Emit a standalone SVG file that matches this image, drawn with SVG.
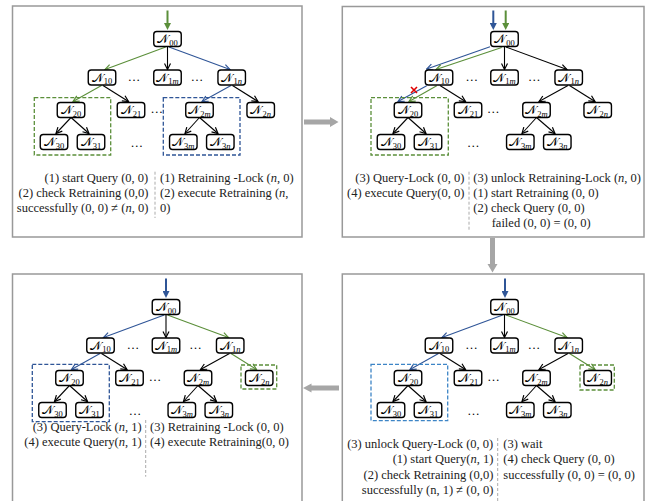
<svg xmlns="http://www.w3.org/2000/svg" width="657" height="501" viewBox="0 0 657 501">
<style>
.pn{fill:#fff;stroke:#999;stroke-width:1.5}
.nd rect{fill:#fff;stroke:#000;stroke-width:1.4}
.nd text{font-family:'DejaVu Serif','Liberation Serif',serif;font-size:11.5px;text-anchor:middle}
.sub{font-size:8.5px;font-family:'Liberation Serif',serif}
.e{fill:none;stroke-width:1.1}
.k{stroke:#000;marker-end:url(#ak)}
.g{stroke:#5b8f3a;marker-end:url(#ag)}
.b{stroke:#2f5597;marker-end:url(#ab)}
.eg{stroke:#5b8f3a;stroke-width:2;marker-end:url(#sg)}
.eb{stroke:#2f5597;stroke-width:2;marker-end:url(#sb)}
.dg{fill:none;stroke:#5b8f3a;stroke-width:1.3;stroke-dasharray:4 2}
.db{fill:none;stroke:#2f5597;stroke-width:1.3;stroke-dasharray:4 2}
.dl{fill:none;stroke:#3d85c6;stroke-width:1.3;stroke-dasharray:4 2}
.t{font-family:'Liberation Serif',serif;font-size:12.5px;fill:#222}
.r{text-anchor:end}
.dot{font-family:'Liberation Serif',serif;font-size:12.5px;text-anchor:middle}
.dv{stroke:#aaa;stroke-width:1;stroke-dasharray:3 2}
.big{fill:#a6a6a6}
</style>
<defs>
<marker id="ak" viewBox="0 0 8 8" refX="7" refY="4" markerWidth="8" markerHeight="8" markerUnits="userSpaceOnUse" orient="auto"><path d="M1,1 L7,4 L1,7" fill="none" stroke="#000" stroke-width="1.2"/></marker>
<marker id="ag" viewBox="0 0 8 8" refX="7" refY="4" markerWidth="8" markerHeight="8" markerUnits="userSpaceOnUse" orient="auto"><path d="M1,1 L7,4 L1,7" fill="none" stroke="#5b8f3a" stroke-width="1.2"/></marker>
<marker id="ab" viewBox="0 0 8 8" refX="7" refY="4" markerWidth="8" markerHeight="8" markerUnits="userSpaceOnUse" orient="auto"><path d="M1,1 L7,4 L1,7" fill="none" stroke="#2f5597" stroke-width="1.2"/></marker>
<marker id="sg" viewBox="0 0 7 7" refX="1" refY="3.5" markerWidth="7" markerHeight="7" markerUnits="userSpaceOnUse" orient="auto"><path d="M0,0 L7,3.5 L0,7 z" fill="#5b8f3a"/></marker>
<marker id="sb" viewBox="0 0 7 7" refX="1" refY="3.5" markerWidth="7" markerHeight="7" markerUnits="userSpaceOnUse" orient="auto"><path d="M0,0 L7,3.5 L0,7 z" fill="#2f5597"/></marker>
</defs>

<!-- panel borders -->
<rect class="pn" x="12.5" y="6" width="289.5" height="231"/>
<rect class="pn" x="342.3" y="6.5" width="301.7" height="230.5"/>
<rect class="pn" x="12.5" y="274" width="289.5" height="240"/>
<rect class="pn" x="342.3" y="274" width="301.7" height="240"/>

<!-- big gray arrows -->
<g id="transitions">
<polygon class="big" points="304,119.5 330,119.5 330,117 338.5,122 330,127 330,124.5 304,124.5"/>
<polygon class="big" points="490,238 495,238 495,264 497.5,264 492.5,272.5 487.5,264 490,264"/>
<polygon class="big" points="339,385.5 311.5,385.5 311.5,383.5 303,388 311.5,392.5 311.5,390.5 339,390.5"/>
</g>

<!-- ===== Panel 1 ===== -->
<g id="panel1" transform="translate(0,0)">
<g id="p1-connectors">
<line class="eg" x1="167.5" y1="10.5" x2="167.5" y2="24"/>
<path class="e g" d="M165.7,47 L105,69.5"/>
<path class="e k" d="M167.5,47 L167.5,69.5"/>
<path class="e b" d="M169,47 L230,69.5"/>
<path class="e g" d="M101.5,85.5 L73,101.5"/>
<path class="e k" d="M103,85.5 L128.5,101.5"/>
<path class="e b" d="M231,85.5 L202,101.5"/>
<path class="e k" d="M232.5,85.5 L258,101.5"/>
<path class="e k" d="M71,117.5 L56,133.5"/>
<path class="e k" d="M71,117.5 L89,133.5"/>
<path class="e k" d="M199.5,117.5 L185,133.5"/>
<path class="e k" d="M199.5,117.5 L218,133.5"/>
</g>
<rect class="dg" x="34.3" y="97.7" width="76.4" height="57.3"/>
<rect class="db" x="163.3" y="97.7" width="76.7" height="57.3"/>
<g id="p1-N00" class="nd" transform="translate(167.5,39)"><rect x="-13.75" y="-7.5" width="27.5" height="15" rx="3"/><text y="4">𝒩<tspan class="sub" dy="2.5">00</tspan></text></g>
<g id="p1-N10" class="nd" transform="translate(102,77.5)"><rect x="-13.75" y="-7.5" width="27.5" height="15" rx="3"/><text y="4">𝒩<tspan class="sub" dy="2.5">10</tspan></text></g>
<g id="p1-N1m" class="nd" transform="translate(167.5,77.5)"><rect x="-13.75" y="-7.5" width="27.5" height="15" rx="3"/><text y="4">𝒩<tspan class="sub" dy="2.5">1<tspan font-style="italic">m</tspan></tspan></text></g>
<g id="p1-N1n" class="nd" transform="translate(231.7,77.5)"><rect x="-13.75" y="-7.5" width="27.5" height="15" rx="3"/><text y="4">𝒩<tspan class="sub" dy="2.5">1<tspan font-style="italic">n</tspan></tspan></text></g>
<g id="p1-N20" class="nd" transform="translate(71,110)"><rect x="-13.75" y="-7.5" width="27.5" height="15" rx="3"/><text y="4">𝒩<tspan class="sub" dy="2.5">20</tspan></text></g>
<g id="p1-N21" class="nd" transform="translate(131,110)"><rect x="-13.75" y="-7.5" width="27.5" height="15" rx="3"/><text y="4">𝒩<tspan class="sub" dy="2.5">21</tspan></text></g>
<g id="p1-N2m" class="nd" transform="translate(199.5,110)"><rect x="-13.75" y="-7.5" width="27.5" height="15" rx="3"/><text y="4">𝒩<tspan class="sub" dy="2.5">2<tspan font-style="italic">m</tspan></tspan></text></g>
<g id="p1-N2n" class="nd" transform="translate(260.7,110)"><rect x="-13.75" y="-7.5" width="27.5" height="15" rx="3"/><text y="4">𝒩<tspan class="sub" dy="2.5">2<tspan font-style="italic">n</tspan></tspan></text></g>
<g id="p1-N30" class="nd" transform="translate(54,142)"><rect x="-13.75" y="-7.5" width="27.5" height="15" rx="3"/><text y="4">𝒩<tspan class="sub" dy="2.5">30</tspan></text></g>
<g id="p1-N31" class="nd" transform="translate(91,142)"><rect x="-13.75" y="-7.5" width="27.5" height="15" rx="3"/><text y="4">𝒩<tspan class="sub" dy="2.5">31</tspan></text></g>
<g id="p1-N3m" class="nd" transform="translate(183.3,142)"><rect x="-13.75" y="-7.5" width="27.5" height="15" rx="3"/><text y="4">𝒩<tspan class="sub" dy="2.5">3<tspan font-style="italic">m</tspan></tspan></text></g>
<g id="p1-N3n" class="nd" transform="translate(220.3,142)"><rect x="-13.75" y="-7.5" width="27.5" height="15" rx="3"/><text y="4">𝒩<tspan class="sub" dy="2.5">3<tspan font-style="italic">n</tspan></tspan></text></g>
<text class="dot" x="134" y="80.5">…</text>
<text class="dot" x="197" y="80.5">…</text>
<text class="dot" x="156.7" y="112.5">…</text>
<text class="dot" x="136.7" y="146.5">…</text>
</g>
<line class="dv" x1="155" y1="171.7" x2="155" y2="218"/>
<text class="t r" x="148.3" y="182.3">(1) start Query (0, 0)</text>
<text class="t r" x="148.3" y="197.3">(2) check Retraining (0,0)</text>
<text class="t r" x="148.3" y="212.3">successfully (0, 0) ≠ (<tspan font-style="italic">n</tspan>, 0)</text>
<text class="t" x="160" y="182.3">(1) Retraining -Lock (<tspan font-style="italic">n</tspan>, 0)</text>
<text class="t" x="160" y="197.3">(2) execute Retraining (<tspan font-style="italic">n</tspan>,</text>
<text class="t" x="160" y="212.3">0)</text>

<!-- ===== Panel 2 ===== -->
<g id="panel2" transform="translate(337,0)">
<g id="p2-connectors">
<line class="eb" x1="156.3" y1="10.5" x2="156.3" y2="24"/>
<line class="eg" x1="168.7" y1="10.5" x2="168.7" y2="24"/>
<path class="e b" d="M153,46.7 L89.7,69"/>
<path class="e g" d="M164.7,47.5 L99,69.5"/>
<path class="e k" d="M167.5,47 L167.5,69.5"/>
<path class="e k" d="M169,47 L230,69.5"/>
<path class="e b" d="M89.7,85.7 L61,101.5"/>
<path class="e g" d="M99.7,85.7 L72,101.5"/>
<path class="e k" d="M103,85.5 L128.5,101.5"/>
<path class="e k" d="M231,85.5 L202,101.5"/>
<path class="e k" d="M232.5,85.5 L258,101.5"/>
<path class="e k" d="M71,117.5 L56,133.5"/>
<path class="e k" d="M71,117.5 L89,133.5"/>
<path class="e k" d="M199.5,117.5 L185,133.5"/>
<path class="e k" d="M199.5,117.5 L218,133.5"/>
<path d="M74,87 L80,93 M80,87 L74,93" stroke="#e00000" stroke-width="1.6" fill="none"/>
</g>
<rect class="dg" x="34" y="97.7" width="77.3" height="57.3"/>
<g id="p2-N00" class="nd" transform="translate(167.5,39)"><rect x="-13.75" y="-7.5" width="27.5" height="15" rx="3"/><text y="4">𝒩<tspan class="sub" dy="2.5">00</tspan></text></g>
<g id="p2-N10" class="nd" transform="translate(102,77.5)"><rect x="-13.75" y="-7.5" width="27.5" height="15" rx="3"/><text y="4">𝒩<tspan class="sub" dy="2.5">10</tspan></text></g>
<g id="p2-N1m" class="nd" transform="translate(167.5,77.5)"><rect x="-13.75" y="-7.5" width="27.5" height="15" rx="3"/><text y="4">𝒩<tspan class="sub" dy="2.5">1<tspan font-style="italic">m</tspan></tspan></text></g>
<g id="p2-N1n" class="nd" transform="translate(231.7,77.5)"><rect x="-13.75" y="-7.5" width="27.5" height="15" rx="3"/><text y="4">𝒩<tspan class="sub" dy="2.5">1<tspan font-style="italic">n</tspan></tspan></text></g>
<g id="p2-N20" class="nd" transform="translate(71,110)"><rect x="-13.75" y="-7.5" width="27.5" height="15" rx="3"/><text y="4">𝒩<tspan class="sub" dy="2.5">20</tspan></text></g>
<g id="p2-N21" class="nd" transform="translate(131,110)"><rect x="-13.75" y="-7.5" width="27.5" height="15" rx="3"/><text y="4">𝒩<tspan class="sub" dy="2.5">21</tspan></text></g>
<g id="p2-N2m" class="nd" transform="translate(199.5,110)"><rect x="-13.75" y="-7.5" width="27.5" height="15" rx="3"/><text y="4">𝒩<tspan class="sub" dy="2.5">2<tspan font-style="italic">m</tspan></tspan></text></g>
<g id="p2-N2n" class="nd" transform="translate(260.7,110)"><rect x="-13.75" y="-7.5" width="27.5" height="15" rx="3"/><text y="4">𝒩<tspan class="sub" dy="2.5">2<tspan font-style="italic">n</tspan></tspan></text></g>
<g id="p2-N30" class="nd" transform="translate(54,142)"><rect x="-13.75" y="-7.5" width="27.5" height="15" rx="3"/><text y="4">𝒩<tspan class="sub" dy="2.5">30</tspan></text></g>
<g id="p2-N31" class="nd" transform="translate(91,142)"><rect x="-13.75" y="-7.5" width="27.5" height="15" rx="3"/><text y="4">𝒩<tspan class="sub" dy="2.5">31</tspan></text></g>
<g id="p2-N3m" class="nd" transform="translate(183.3,142)"><rect x="-13.75" y="-7.5" width="27.5" height="15" rx="3"/><text y="4">𝒩<tspan class="sub" dy="2.5">3<tspan font-style="italic">m</tspan></tspan></text></g>
<g id="p2-N3n" class="nd" transform="translate(220.3,142)"><rect x="-13.75" y="-7.5" width="27.5" height="15" rx="3"/><text y="4">𝒩<tspan class="sub" dy="2.5">3<tspan font-style="italic">n</tspan></tspan></text></g>
<text class="dot" x="134.7" y="80.5">…</text>
<text class="dot" x="197.3" y="80.5">…</text>
<text class="dot" x="156.3" y="112.5">…</text>
<text class="dot" x="136.3" y="146.5">…</text>
</g>
<line class="dv" x1="469" y1="171.7" x2="469" y2="230"/>
<text class="t r" x="464.3" y="182.3">(3) Query-Lock (0, 0)</text>
<text class="t r" x="464.3" y="197.3">(4) execute Query(0, 0)</text>
<text class="t" x="473.3" y="182.3">(3) unlock Retraining-Lock (<tspan font-style="italic">n</tspan>, 0)</text>
<text class="t" x="473.3" y="197.3">(1) start Retraining (0, 0)</text>
<text class="t" x="473.3" y="212.3">(2) check Query (0, 0)</text>
<text class="t" x="491.7" y="227.3">failed (0, 0) = (0, 0)</text>

<!-- ===== Panel 3 ===== -->
<g id="panel3" transform="translate(-1.5,268)">
<g id="p3-connectors">
<line class="eb" x1="167.5" y1="10.5" x2="167.5" y2="24"/>
<path class="e b" d="M165.7,47 L105,69.5"/>
<path class="e k" d="M167.5,47 L167.5,69.5"/>
<path class="e g" d="M169,47 L230,69.5"/>
<path class="e b" d="M101.5,85.5 L73,101.5"/>
<path class="e k" d="M103,85.5 L128.5,101.5"/>
<path class="e k" d="M231,85.5 L202,101.5"/>
<path class="e g" d="M232.5,85.5 L258,101.5"/>
<path class="e k" d="M71,117.5 L56,133.5"/>
<path class="e k" d="M71,117.5 L89,133.5"/>
<path class="e k" d="M199.5,117.5 L185,133.5"/>
<path class="e k" d="M199.5,117.5 L218,133.5"/>
</g>
<rect class="db" x="33.8" y="96.3" width="77" height="57.4"/>
<rect class="dg" x="242.5" y="97" width="35.7" height="24"/>
<g id="p3-N00" class="nd" transform="translate(167.5,39)"><rect x="-13.75" y="-7.5" width="27.5" height="15" rx="3"/><text y="4">𝒩<tspan class="sub" dy="2.5">00</tspan></text></g>
<g id="p3-N10" class="nd" transform="translate(102,77.5)"><rect x="-13.75" y="-7.5" width="27.5" height="15" rx="3"/><text y="4">𝒩<tspan class="sub" dy="2.5">10</tspan></text></g>
<g id="p3-N1m" class="nd" transform="translate(167.5,77.5)"><rect x="-13.75" y="-7.5" width="27.5" height="15" rx="3"/><text y="4">𝒩<tspan class="sub" dy="2.5">1<tspan font-style="italic">m</tspan></tspan></text></g>
<g id="p3-N1n" class="nd" transform="translate(231.7,77.5)"><rect x="-13.75" y="-7.5" width="27.5" height="15" rx="3"/><text y="4">𝒩<tspan class="sub" dy="2.5">1<tspan font-style="italic">n</tspan></tspan></text></g>
<g id="p3-N20" class="nd" transform="translate(71,110)"><rect x="-13.75" y="-7.5" width="27.5" height="15" rx="3"/><text y="4">𝒩<tspan class="sub" dy="2.5">20</tspan></text></g>
<g id="p3-N21" class="nd" transform="translate(131,110)"><rect x="-13.75" y="-7.5" width="27.5" height="15" rx="3"/><text y="4">𝒩<tspan class="sub" dy="2.5">21</tspan></text></g>
<g id="p3-N2m" class="nd" transform="translate(199.5,110)"><rect x="-13.75" y="-7.5" width="27.5" height="15" rx="3"/><text y="4">𝒩<tspan class="sub" dy="2.5">2<tspan font-style="italic">m</tspan></tspan></text></g>
<g id="p3-N2n" class="nd" transform="translate(260.7,110)"><rect x="-13.75" y="-7.5" width="27.5" height="15" rx="3"/><text y="4">𝒩<tspan class="sub" dy="2.5">2<tspan font-style="italic">n</tspan></tspan></text></g>
<g id="p3-N30" class="nd" transform="translate(54,142)"><rect x="-13.75" y="-7.5" width="27.5" height="15" rx="3"/><text y="4">𝒩<tspan class="sub" dy="2.5">30</tspan></text></g>
<g id="p3-N31" class="nd" transform="translate(91,142)"><rect x="-13.75" y="-7.5" width="27.5" height="15" rx="3"/><text y="4">𝒩<tspan class="sub" dy="2.5">31</tspan></text></g>
<g id="p3-N3m" class="nd" transform="translate(183.3,142)"><rect x="-13.75" y="-7.5" width="27.5" height="15" rx="3"/><text y="4">𝒩<tspan class="sub" dy="2.5">3<tspan font-style="italic">m</tspan></tspan></text></g>
<g id="p3-N3n" class="nd" transform="translate(220.3,142)"><rect x="-13.75" y="-7.5" width="27.5" height="15" rx="3"/><text y="4">𝒩<tspan class="sub" dy="2.5">3<tspan font-style="italic">n</tspan></tspan></text></g>
<text class="dot" x="134.5" y="80.5">…</text>
<text class="dot" x="197" y="80.5">…</text>
<text class="dot" x="156.5" y="112.5">…</text>
<text class="dot" x="136.5" y="146.5">…</text>
</g>
<line class="dv" x1="145.7" y1="420" x2="145.7" y2="476.7"/>
<text class="t r" x="141.7" y="430.7">(3) Query-Lock (<tspan font-style="italic">n</tspan>, 1)</text>
<text class="t r" x="141.7" y="445.7">(4) execute Query(<tspan font-style="italic">n</tspan>, 1)</text>
<text class="t" x="150" y="430.7">(3) Retraining -Lock (0, 0)</text>
<text class="t" x="150" y="445.7">(4) execute Retraining(0, 0)</text>

<!-- ===== Panel 4 ===== -->
<g id="panel4" transform="translate(337,268)">
<g id="p4-connectors">
<line class="eb" x1="168" y1="10.5" x2="168" y2="24"/>
<path class="e b" d="M165.7,47 L105,69.5"/>
<path class="e k" d="M167.5,47 L167.5,69.5"/>
<path class="e g" d="M169,47 L230,69.5"/>
<path class="e b" d="M101.5,85.5 L73,101.5"/>
<path class="e k" d="M103,85.5 L128.5,101.5"/>
<path class="e k" d="M231,85.5 L202,101.5"/>
<path class="e g" d="M232.5,85.5 L258,101.5"/>
<path class="e k" d="M71,117.5 L56,133.5"/>
<path class="e k" d="M71,117.5 L89,133.5"/>
<path class="e k" d="M199.5,117.5 L185,133.5"/>
<path class="e k" d="M199.5,117.5 L218,133.5"/>
</g>
<rect class="dl" x="34" y="96.3" width="76.7" height="56.4"/>
<rect class="dg" x="243" y="97" width="34.3" height="25"/>
<g id="p4-N00" class="nd" transform="translate(167.5,39)"><rect x="-13.75" y="-7.5" width="27.5" height="15" rx="3"/><text y="4">𝒩<tspan class="sub" dy="2.5">00</tspan></text></g>
<g id="p4-N10" class="nd" transform="translate(102,77.5)"><rect x="-13.75" y="-7.5" width="27.5" height="15" rx="3"/><text y="4">𝒩<tspan class="sub" dy="2.5">10</tspan></text></g>
<g id="p4-N1m" class="nd" transform="translate(167.5,77.5)"><rect x="-13.75" y="-7.5" width="27.5" height="15" rx="3"/><text y="4">𝒩<tspan class="sub" dy="2.5">1<tspan font-style="italic">m</tspan></tspan></text></g>
<g id="p4-N1n" class="nd" transform="translate(231.7,77.5)"><rect x="-13.75" y="-7.5" width="27.5" height="15" rx="3"/><text y="4">𝒩<tspan class="sub" dy="2.5">1<tspan font-style="italic">n</tspan></tspan></text></g>
<g id="p4-N20" class="nd" transform="translate(71,110)"><rect x="-13.75" y="-7.5" width="27.5" height="15" rx="3"/><text y="4">𝒩<tspan class="sub" dy="2.5">20</tspan></text></g>
<g id="p4-N21" class="nd" transform="translate(131,110)"><rect x="-13.75" y="-7.5" width="27.5" height="15" rx="3"/><text y="4">𝒩<tspan class="sub" dy="2.5">21</tspan></text></g>
<g id="p4-N2m" class="nd" transform="translate(199.5,110)"><rect x="-13.75" y="-7.5" width="27.5" height="15" rx="3"/><text y="4">𝒩<tspan class="sub" dy="2.5">2<tspan font-style="italic">m</tspan></tspan></text></g>
<g id="p4-N2n" class="nd" transform="translate(260.7,110)"><rect x="-13.75" y="-7.5" width="27.5" height="15" rx="3"/><text y="4">𝒩<tspan class="sub" dy="2.5">2<tspan font-style="italic">n</tspan></tspan></text></g>
<g id="p4-N30" class="nd" transform="translate(54,142)"><rect x="-13.75" y="-7.5" width="27.5" height="15" rx="3"/><text y="4">𝒩<tspan class="sub" dy="2.5">30</tspan></text></g>
<g id="p4-N31" class="nd" transform="translate(91,142)"><rect x="-13.75" y="-7.5" width="27.5" height="15" rx="3"/><text y="4">𝒩<tspan class="sub" dy="2.5">31</tspan></text></g>
<g id="p4-N3m" class="nd" transform="translate(183.3,142)"><rect x="-13.75" y="-7.5" width="27.5" height="15" rx="3"/><text y="4">𝒩<tspan class="sub" dy="2.5">3<tspan font-style="italic">m</tspan></tspan></text></g>
<g id="p4-N3n" class="nd" transform="translate(220.3,142)"><rect x="-13.75" y="-7.5" width="27.5" height="15" rx="3"/><text y="4">𝒩<tspan class="sub" dy="2.5">3<tspan font-style="italic">n</tspan></tspan></text></g>
<text class="dot" x="134.5" y="80.5">…</text>
<text class="dot" x="197" y="80.5">…</text>
<text class="dot" x="156.5" y="112.5">…</text>
<text class="dot" x="136.5" y="146.5">…</text>
</g>
<line class="dv" x1="497.7" y1="438" x2="497.7" y2="501"/>
<text class="t r" x="493.3" y="448.3">(3) unlock Query-Lock (0, 0)</text>
<text class="t r" x="493.3" y="463.3">(1) start Query(<tspan font-style="italic">n</tspan>, 1)</text>
<text class="t r" x="493.3" y="478.8">(2) check Retraining (0,0)</text>
<text class="t r" x="493.3" y="494">successfully (n, 1) ≠ (0, 0)</text>
<text class="t" x="503.3" y="448.3">(3) wait</text>
<text class="t" x="503.3" y="463.3">(4) check Query (0, 0)</text>
<text class="t" x="503.3" y="478.8">successfully (0, 0) = (0, 0)</text>
</svg>
